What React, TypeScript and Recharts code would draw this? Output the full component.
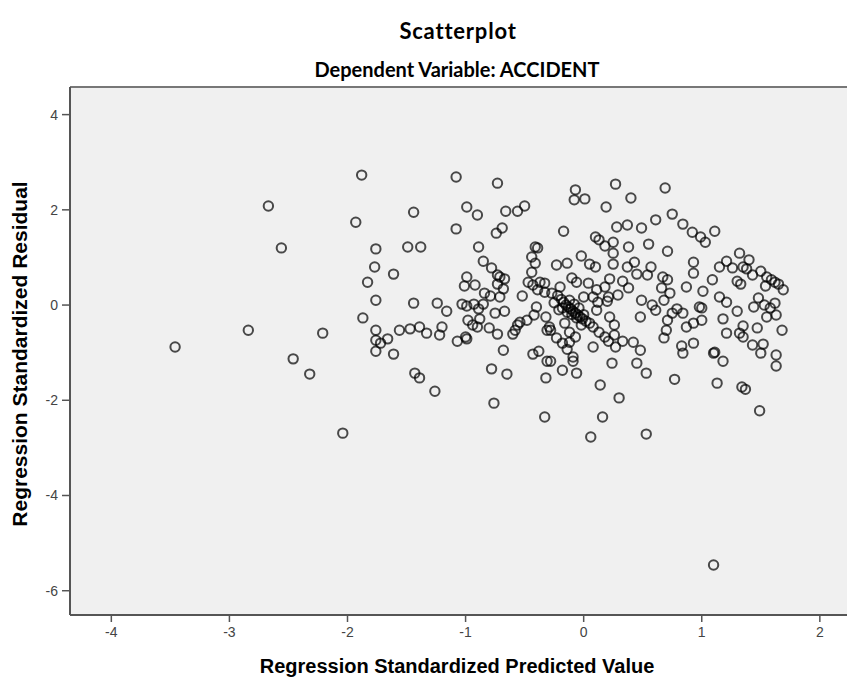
import React from 'react';
import { ScatterChart, Scatter, XAxis, YAxis, CartesianGrid, ReferenceLine } from 'recharts';

const chartTitle = 'Scatterplot';
const chartSubtitle = 'Dependent Variable: ACCIDENT';
const xAxisTitle = 'Regression Standardized Predicted Value';
const yAxisTitle = 'Regression Standardized Residual';

const xTicks = [-4, -3, -2, -1, 0, 1, 2];
const yTicks = [-6, -4, -2, 0, 2, 4];

// [predicted, residual]
const leftPoints: [number, number][] = [
  [-3.46, -0.88], [-2.84, -0.53], [-2.67, 2.08], [-2.56, 1.2], [-2.46, -1.13], [-2.32, -1.45],
  [-2.21, -0.59], [-2.04, -2.69], [-1.93, 1.74], [-1.88, 2.73], [-1.87, -0.27], [-1.83, 0.48],
  [-1.77, 0.8], [-1.76, 1.18], [-1.76, 0.1], [-1.76, -0.53], [-1.76, -0.74], [-1.72, -0.8],
  [-1.66, -0.71], [-1.76, -0.97], [-1.61, -1.03], [-1.61, 0.65], [-1.56, -0.53], [-1.47, -0.5],
  [-1.39, -0.46], [-1.33, -0.59], [-1.49, 1.22], [-1.38, 1.22], [-1.44, 1.95], [-1.44, 0.04],
  [-1.43, -1.43], [-1.39, -1.53], [-1.26, -1.81], [-1.24, 0.04], [-1.16, -0.13], [-1.2, -0.46],
  [-1.22, -0.63],
];

const midLeftPoints: [number, number][] = [
  [-1.08, 2.69], [-1.08, 1.6], [-1.07, -0.76], [-1.0, -0.67], [-0.99, -0.71], [-0.99, 2.06],
  [-0.9, 1.89], [-0.89, 1.22], [-0.85, 0.92], [-0.99, 0.59], [-1.01, 0.4], [-0.92, 0.42],
  [-1.03, 0.02], [-0.99, -0.02], [-0.93, 0.02], [-0.85, 0.02], [-0.89, -0.08], [-0.84, 0.25],
  [-0.79, 0.19], [-0.71, 0.17], [-0.98, -0.32], [-0.88, -0.29], [-0.94, -0.42], [-0.9, -0.46],
  [-0.8, -0.48], [-0.73, -0.61], [-0.75, -0.17], [-0.67, -0.13], [-0.78, 0.78], [-0.73, 0.63],
  [-0.71, 0.59], [-0.67, 0.55], [-0.73, 0.44], [-0.68, 0.34], [-0.73, 2.56], [-0.74, 1.51],
  [-0.69, 1.62], [-0.66, 1.97], [-0.56, 1.97], [-0.5, 2.08], [-0.68, -0.95], [-0.78, -1.34],
  [-0.65, -1.45], [-0.76, -2.06], [-0.33, -2.35], [-0.44, 1.01], [-0.41, 0.88], [-0.44, 0.69],
  [-0.41, 1.22], [-0.39, 1.2], [-0.47, 0.48], [-0.43, 0.42], [-0.37, 0.48], [-0.33, 0.46],
  [-0.39, 0.32], [-0.33, 0.27], [-0.52, 0.19], [-0.4, -0.04], [-0.42, -0.21], [-0.48, -0.32],
  [-0.56, -0.42], [-0.58, -0.53], [-0.32, -0.25], [-0.31, -0.53], [-0.43, -1.03], [-0.38, -0.97],
  [-0.31, -1.18], [-0.32, -1.53], [-0.28, -1.18], [-0.54, -0.36], [-0.6, -0.61], [-0.29, -0.46],
];

const centerPoints: [number, number][] = [
  [-0.18, -1.37], [-0.09, -1.18], [-0.06, -1.43], [-0.23, -0.69], [-0.18, -0.8], [-0.12, -0.78],
  [-0.14, -0.93], [-0.09, -1.09], [-0.28, -0.53], [-0.16, -0.38], [-0.12, -0.57], [-0.07, -0.67],
  [-0.27, 0.25], [-0.2, 0.38], [-0.23, 0.84], [-0.14, 0.88], [-0.17, 1.55], [-0.07, 2.42],
  [-0.08, 2.21], [0.01, 2.23], [-0.02, 1.03], [0.05, 0.86], [0.1, 0.8], [-0.06, 0.48],
  [0.04, 0.46], [0.11, 0.32], [0.08, 0.17], [0.12, 0.06], [0.0, 0.17], [-0.1, 0.57],
  [-0.22, 0.2], [-0.19, 0.12], [-0.17, 0.06], [-0.15, 0.0], [-0.13, -0.04], [-0.11, -0.08],
  [-0.09, -0.13], [-0.07, -0.17], [-0.05, -0.21], [-0.03, -0.25], [-0.01, -0.29], [0.02, -0.34],
  [-0.12, 0.1], [-0.08, 0.02], [-0.04, -0.06], [-0.1, -0.2], [-0.06, -0.27], [-0.18, -0.06],
  [-0.14, -0.15], [-0.02, -0.42], [0.0, -0.2], [-0.21, -0.1], [-0.25, 0.05],
  [0.11, -0.11], [0.22, -0.25], [0.26, -0.42], [0.26, -0.63], [0.27, -0.88], [0.05, -0.38],
  [0.08, -0.46], [0.13, -0.57], [0.18, -0.67], [0.21, -0.76], [0.42, -0.78], [0.33, -0.76],
  [0.08, -0.88], [0.24, -1.22], [0.14, -1.68], [0.3, -1.95], [0.16, -2.35], [0.06, -2.77],
  [0.53, -2.71], [0.45, -1.22], [0.53, -1.43], [0.48, -0.95],
];

const midRightPoints: [number, number][] = [
  [0.27, 2.54], [0.69, 2.46], [0.4, 2.25], [0.19, 2.06], [0.75, 1.91], [0.61, 1.79],
  [0.28, 1.64], [0.37, 1.68], [0.49, 1.62], [0.84, 1.7], [0.92, 1.53], [0.99, 1.43],
  [1.03, 1.32], [1.11, 1.55], [0.1, 1.43], [0.13, 1.37], [0.18, 1.24], [0.25, 1.32],
  [0.38, 1.22], [0.55, 1.28], [0.71, 1.13], [0.25, 1.09], [0.25, 0.86], [0.37, 0.8],
  [0.43, 0.9], [0.45, 0.65], [0.57, 0.8], [0.54, 0.63], [0.93, 0.9], [0.93, 0.67],
  [1.09, 0.53], [0.67, 0.59], [0.71, 0.53], [0.87, 0.38], [1.01, 0.29], [1.15, 0.17],
  [0.73, 0.25], [0.33, 0.5], [0.22, 0.55], [0.18, 0.38], [0.21, 0.17], [0.2, 0.08],
  [0.29, 0.21], [0.38, 0.36], [0.49, 0.1], [0.66, 0.36], [0.68, 0.1],
  [0.58, 0.0], [0.61, -0.11], [0.48, -0.25], [0.71, -0.32], [0.75, -0.17], [0.79, -0.08],
  [0.84, -0.17], [0.87, -0.46], [0.93, -0.38], [1.0, -0.32], [0.7, -0.53], [0.68, -0.69],
  [0.98, -0.04], [0.83, -0.86], [0.84, -1.01], [0.93, -0.8], [0.77, -1.56],
];

const rightPoints: [number, number][] = [
  [1.32, 1.09], [1.4, 0.95], [1.21, 0.92], [1.15, 0.8], [1.26, 0.78], [1.35, 0.8],
  [1.38, 0.76], [1.5, 0.71], [1.43, 0.63], [1.55, 0.59], [1.59, 0.53], [1.62, 0.48],
  [1.65, 0.44], [1.69, 0.32], [1.3, 0.5], [1.33, 0.44], [1.54, 0.4], [1.21, 0.06],
  [1.48, 0.15], [1.44, -0.04], [1.53, 0.0], [1.58, -0.06], [1.62, 0.04], [1.3, -0.13],
  [1.0, -0.06], [1.63, -0.21], [1.55, -0.25], [1.18, -0.29], [1.35, -0.44], [1.47, -0.48],
  [1.68, -0.53], [1.21, -0.59], [1.32, -0.59], [1.35, -0.67], [1.43, -0.84], [1.52, -0.82],
  [1.5, -1.01], [1.1, -1.01], [1.63, -1.05], [1.63, -1.28], [1.18, -1.18], [1.34, -1.72],
  [1.37, -1.77], [1.49, -2.22], [1.11, -0.99], [1.13, -1.64], [1.1, -5.46],
];

const allPoints = [...leftPoints, ...midLeftPoints, ...centerPoints, ...midRightPoints, ...rightPoints];
const data = allPoints.map(([x, y]) => ({ x, y }));

const axisColor = '#555';
const tickStyle = { fontFamily: '"Liberation Sans", Arial, sans-serif', fontSize: 14, fill: '#444' };

const Ring = (props: any) => {
  const { cx, cy } = props;
  if (cx == null || cy == null) return null;
  return <circle cx={cx} cy={cy} r={4.7} fill="none" stroke="#000" strokeOpacity={0.7} strokeWidth={2} />;
};

export default function App() {
  return (
    <div style={{ position: 'absolute', left: 0, top: 0, width: 847, height: 677, background: '#fff', overflow: 'hidden' }}>
      <ScatterChart width={847} height={677} margin={{ top: 87, right: 0, bottom: 0, left: 0 }}>
        <CartesianGrid fill="#f0f0f0" horizontal={false} vertical={false} />
        <XAxis
          type="number"
          dataKey="x"
          domain={[-4.35, 2.23]}
          ticks={xTicks}
          allowDataOverflow
          height={62}
          tickSize={7}
          tickMargin={5}
          tick={tickStyle}
          axisLine={{ stroke: axisColor, strokeWidth: 2 }}
          tickLine={{ stroke: axisColor, strokeWidth: 1.5 }}
        />
        <YAxis
          type="number"
          dataKey="y"
          domain={[-6.51, 4.58]}
          ticks={yTicks}
          allowDataOverflow
          width={70}
          tickSize={8}
          tickMargin={4}
          tick={tickStyle}
          axisLine={{ stroke: axisColor, strokeWidth: 2 }}
          tickLine={{ stroke: axisColor, strokeWidth: 1.5 }}
        />
        <ReferenceLine y={4.58} stroke="#777" strokeWidth={2} />
        <Scatter data={data} shape={Ring} isAnimationActive={false} />
      </ScatterChart>
      <div style={{ position: 'absolute', left: 458, top: 30, transform: 'translate(-50%, -50%)', fontFamily: 'Lato, "Open Sans", sans-serif', fontWeight: 700, fontSize: 22, letterSpacing: 0.8, color: '#000', whiteSpace: 'nowrap' }}>
        {chartTitle}
      </div>
      <div style={{ position: 'absolute', left: 457, top: 69, transform: 'translate(-50%, -50%)', fontFamily: 'Lato, "Open Sans", sans-serif', fontWeight: 700, fontSize: 20, color: '#000', whiteSpace: 'nowrap' }}>
        {chartSubtitle}
      </div>
      <div style={{ position: 'absolute', left: 457, top: 666, transform: 'translate(-50%, -50%)', fontFamily: '"Liberation Sans", Arial, sans-serif', fontWeight: 700, fontSize: 20, color: '#000', whiteSpace: 'nowrap' }}>
        {xAxisTitle}
      </div>
      <div style={{ position: 'absolute', left: 20, top: 354, transform: 'translate(-50%, -50%) rotate(-90deg)', fontFamily: '"Liberation Sans", Arial, sans-serif', fontWeight: 700, fontSize: 21, color: '#000', whiteSpace: 'nowrap' }}>
        {yAxisTitle}
      </div>
    </div>
  );
}
